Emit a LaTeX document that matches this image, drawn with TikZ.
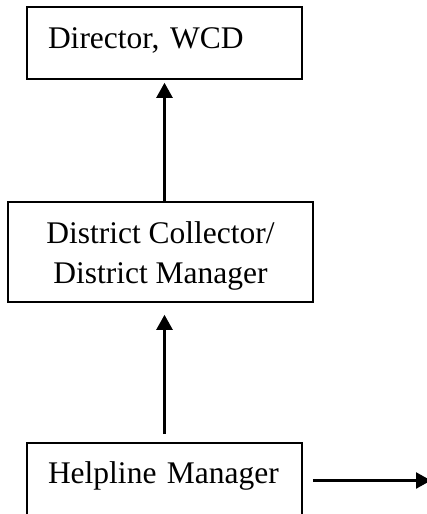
\documentclass[tikz,border=0pt]{standalone}
\usepackage{fontspec}
\setmainfont{Liberation Serif}
\usetikzlibrary{arrows.meta}
\begin{document}
\begin{tikzpicture}[x=1pt,y=-1pt,
  box/.style={draw, line width=1.6pt, rectangle, inner sep=0pt, font=\fontsize{31.5}{40}\selectfont},
  leftbox/.style={box, minimum width=275pt, text width=233pt, align=left, inner xsep=21pt},
  arr/.style={line width=2.4pt, -{Triangle[length=15pt,width=16pt]}}]
\useasboundingbox (0,0) rectangle (426,514);
\node[leftbox, minimum height=72pt, text height=21pt, text depth=11pt] (d1) at (164.5,43) {Director, WCD};
\node[box, minimum width=305pt, minimum height=100pt, align=center] (d2) at (160.5,252) {\rule{0pt}{29pt}District Collector/\\District Manager};
\node[leftbox, minimum height=75pt, text height=21pt, text depth=16pt] (d3) at (164.5,480.5) {Helpline Manager};
\coordinate (out) at (431,480.5);
\draw[arr, shorten >=3pt] (d2.north -| d1.south) -- (d1.south);
\draw[arr, shorten <=8pt, shorten >=12pt] (d3.north) -- (d3.north |- d2.south);
\draw[arr, shorten <=10pt] (d3.east) -- (out);
\end{tikzpicture}
\end{document}
